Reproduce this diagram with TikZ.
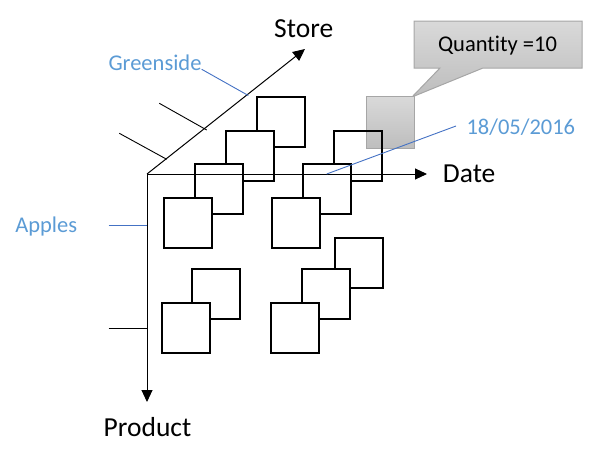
\documentclass[tikz,border=0pt]{standalone}
\usepackage{fontspec}
\setmainfont{Carlito}[Ligatures={NoCommon}]
\usetikzlibrary{arrows.meta}
\definecolor{bluetxt}{HTML}{5B9BD5}
\definecolor{blueln}{HTML}{4472C4}
\definecolor{grayedge}{HTML}{A6A6A6}
\definecolor{graytop}{HTML}{D9D9D9}
\definecolor{graybot}{HTML}{BDBDBD}
\tikzset{
  sq/.style={draw, line width=2pt, fill=white, inner sep=0pt, minimum width=48pt, minimum height=50pt},
  sqopen/.style={sq, fill=none},
  axis/.style={line width=1pt, -{Triangle[length=12pt,width=11pt]}},
  tick/.style={line width=0.9pt},
  lead/.style={blueln, line width=0.9pt},
  bigtxt/.style={inner sep=0pt, anchor=base, font=\fontsize{27.5}{30}\selectfont},
  smalltxt/.style={inner sep=0pt, anchor=base, font=\fontsize{22.5}{26}\selectfont},
  bluetext/.style={smalltxt, text=bluetxt},
  grayfill/.style={draw=grayedge, line width=1pt, top color=graytop, bottom color=graybot}
}
\begin{document}
\begin{tikzpicture}[x=1pt,y=-1pt]
\useasboundingbox (0,0) rectangle (591,463);
% callout and gray cell (behind)
\draw[grayfill] (414,21) -- (582,21) -- (582,68) -- (483,68) -- (412,97) -- (440,68) -- (414,68) -- cycle;
\node[grayfill, inner sep=0pt, minimum width=48pt, minimum height=52pt] (cell) at (390,122.8) {};
\node[smalltxt] (qty) at (497.5,51.5) {Quantity =10};
% cubes, back to front
\node[sq] (a1) at (281,122) {};
\node[sq] (a2) at (250,155.7) {};
\node[sq] (a3) at (219,189) {};
\node[sq] (a4) at (188,222.7) {};
\node[sqopen] (b1) at (357.5,155.7) {};
\node[sq] (b2) at (327,189) {};
\node[sq] (b3) at (296,222.7) {};
\node[sq] (c1) at (216,293.7) {};
\node[sq] (c2) at (186,328) {};
\node[sq] (d1) at (359,263.3) {};
\node[sq] (d2) at (326,293.7) {};
\node[sq] (d3) at (295,328) {};
% axes
\coordinate (O) at (147,174);
\coordinate (S) at (305,49);
\coordinate (D) at (427,174);
\coordinate (P) at (147,402);
\draw[axis] (O) -- (S);
\draw[axis] (O) -- (D);
\draw[axis] (O) -- (P);
\node[bigtxt] (store) at (303.7,37.5) {Store};
\node[bigtxt] (date) at (469.2,182.7) {Date};
\node[bigtxt] (product) at (147.5,436.7) {Product};
% ticks
\coordinate (t1a) at (159.3,103.3);
\coordinate (t1b) at (206.7,130);
\coordinate (t2a) at (119.3,133.3);
\coordinate (t2b) at (166.7,159.3);
\coordinate (t3a) at (108.7,328.3);
\coordinate (t3b) at (147,328.3);
\draw[tick] (t1a) -- (t1b);
\draw[tick] (t2a) -- (t2b);
\draw[tick] (t3a) -- (t3b);
% labels with leaders
\node[bluetext] (green) at (155,70) {Greenside};
\node[bluetext] (apples) at (46.2,232) {Apples};
\node[bluetext] (dlab) at (520.8,134.3) {18/05/2016};
\coordinate (g1) at (201.7,69.3);
\coordinate (g2) at (248.3,95.5);
\coordinate (ap1) at (108.7,225);
\coordinate (ap2) at (147,225);
\coordinate (d1s) at (456,126);
\coordinate (d1e) at (326.7,174);
\draw[lead] (g1) -- (g2);
\draw[lead] (ap1) -- (ap2);
\draw[lead] (d1s) -- (d1e);
\end{tikzpicture}
\end{document}
